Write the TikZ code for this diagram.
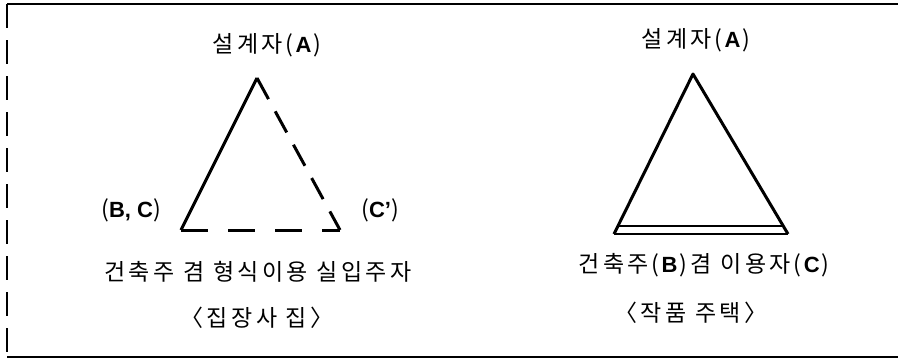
\documentclass[tikz,border=0pt]{standalone}
\usepackage{fontspec}
\setmainfont{Noto Sans CJK KR}[LetterSpace=15]
\newfontfamily\lat{Liberation Sans}
\usetikzlibrary{calc}
\newcommand{\ltr}[1]{{\lat\bfseries\fontsize{22}{24}\selectfont #1}}
\newcommand{\po}{\hspace{3pt}(\hspace{2pt}}
\newcommand{\pc}{\hspace{2pt})}
\tikzset{
	lbl/.style = {inner sep = 0pt, font = \fontsize{23}{26}\selectfont},
	side/.style = {line width = 3pt, line join = round},
	broken/.style = {side, dash pattern = on 24pt off 14pt}
}
\begin{document}
\begin{tikzpicture}[x = 1pt, y = 1pt]
	\useasboundingbox (0, 0) rectangle (898, 360);
	% frame
	\draw[line width = 2pt] (7, 356)--(898, 356);
	\draw[line width = 2pt] (7, 3)--(898, 3);
	\draw[line width = 1.6pt, dash pattern = on 24pt off 12pt] (7, 356)--(7, 3);
	% left : 집장사 집
	\coordinate (la) at (257, 282); \coordinate (lb) at (181, 130); \coordinate (lc) at (340, 130);
	\draw[side] (lb)--(la);
	\draw[broken] (la)--(lc);
	\draw[broken, dash pattern = on 27pt off 20pt] (lb)--(lc);
	\node[lbl] (lA) at (267, 315) {설계자\po\ltr{A}\pc};
	\node[lbl] (lBC) at (131, 150) {(\ltr{B, C})};
	\node[lbl] (lCp) at (380, 150) {(\ltr{C’})};
	\node[lbl] (lUser) at (258, 88) {건축주 겸 형식이용 실입주자};
	\node[lbl] (lType) at (257, 42) {〈집장사 집〉};
	% right : 작품 주택
	\coordinate (ra) at (693, 286); \coordinate (rb) at (614, 126); \coordinate (rc) at (788, 126);
	\draw[side] (rb)--(ra)--(rc);
	\draw[line width = 2pt] (rb)--(rc);
	\draw[line width = 1.6pt] ($(rb)!.05!(ra)$)--($(rc)!.05!(ra)$);
	\node[lbl] (rA) at (696, 320) {설계자\po\ltr{A}\pc};
	\node[lbl] (rUser) at (704, 95) {건축주\po\ltr{B}\pc{}겸 이용자\po\ltr{C}\pc};
	\node[lbl] (rType) at (691, 47) {〈작품 주택〉};
\end{tikzpicture}
\end{document}
